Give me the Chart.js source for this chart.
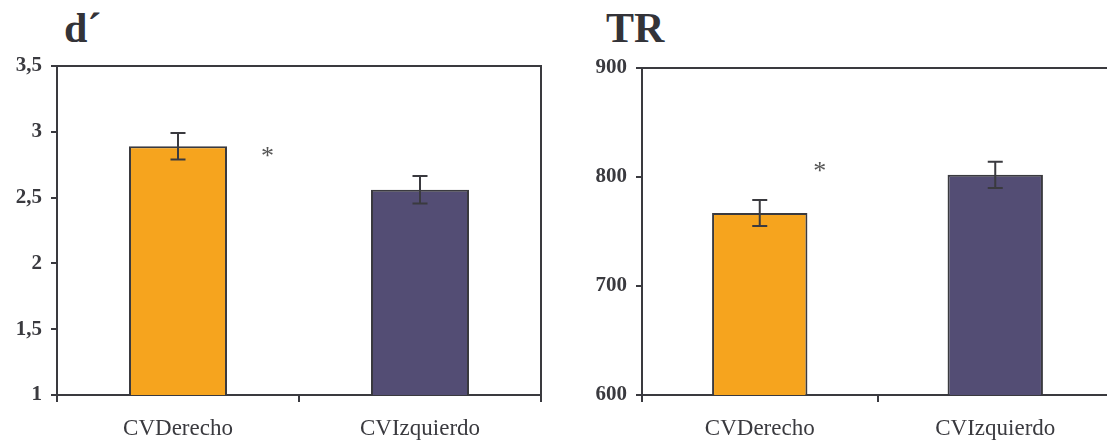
<!DOCTYPE html>
<html>
<head>
<meta charset="utf-8">
<script src="https://cdn.jsdelivr.net/npm/chart.js@4"></script>
<style>
  html, body { margin: 0; padding: 0; background: #fff; overflow: hidden; width: 1107px; height: 446px; }
  .panel { position: absolute; top: 0; height: 446px; }
  .title { position: absolute; top: 7px; font: bold 42px "Liberation Serif", serif; color: #333338; line-height: 1; }
</style>
</head>
<body>
<div class="title" style="left:64px">d´</div>
<div class="title" style="left:606px">TR</div>
<div class="panel" style="left:0; width:560px"><canvas id="dChart"></canvas></div>
<div class="panel" style="left:585px; width:528px"><canvas id="trChart"></canvas></div>
<script>
const categories = ['CVDerecho', 'CVIzquierdo'];
const barColors = ['#F6A41E', '#534D74'];

const dValues = [2.89, 2.56];
const dErrors = [0.10, 0.105];
const dTicks = [1, 1.5, 2, 2.5, 3, 3.5];

const trValues = [767, 802];
const trErrors = [12, 12];
const trTicks = [600, 700, 800, 900];

// asterisk: category index plus fraction of the category width, and the y value
const dStar = { index: 0.37, value: 2.84 };
const trStar = { index: 0.255, value: 808 };

const ink = '#3a3a3f';

// frame on top and right, error bars, asterisk
const extras = {
  id: 'extras',
  afterDatasetsDraw(chart, args, opts) {
    const { ctx, chartArea: a, scales: { x, y } } = chart;
    ctx.save();
    ctx.strokeStyle = ink;
    ctx.lineWidth = 2;
    ctx.beginPath();
    ctx.moveTo(a.left, a.top);
    ctx.lineTo(a.right, a.top);
    ctx.lineTo(a.right, a.bottom);
    ctx.stroke();

    const meta = chart.getDatasetMeta(0);
    meta.data.forEach((bar, i) => {
      const v = chart.data.datasets[0].data[i];
      const e = opts.errors[i];
      const yTop = y.getPixelForValue(v + e);
      const yBot = y.getPixelForValue(v - e);
      ctx.beginPath();
      ctx.moveTo(bar.x, yTop);
      ctx.lineTo(bar.x, yBot);
      ctx.moveTo(bar.x - 7.5, yTop);
      ctx.lineTo(bar.x + 7.5, yTop);
      ctx.moveTo(bar.x - 7.5, yBot);
      ctx.lineTo(bar.x + 7.5, yBot);
      ctx.stroke();
    });

    const catW = (a.right - a.left) / chart.data.labels.length;
    const sx = x.getPixelForValue(0) + opts.star.index * catW;
    const sy = y.getPixelForValue(opts.star.value);
    ctx.fillStyle = '#555';
    ctx.font = '26px "Liberation Serif", serif';
    ctx.textAlign = 'center';
    ctx.textBaseline = 'middle';
    ctx.fillText('*', sx, sy + 4);
    ctx.restore();
  }
};

function makeChart(id, values, errors, ticks, star, topPad, rightPad, fmt) {
  const ctx = document.getElementById(id).getContext('2d');
  return new Chart(ctx, {
    type: 'bar',
    data: {
      labels: categories,
      datasets: [{
        data: values,
        backgroundColor: barColors,
        borderColor: ink,
        borderWidth: 2,
        barPercentage: 0.405,
        categoryPercentage: 1
      }]
    },
    options: {
      responsive: true,
      maintainAspectRatio: false,
      animation: false,
      layout: { padding: { top: topPad, right: rightPad, left: 0, bottom: 0 } },
      plugins: {
        legend: { display: false },
        tooltip: { enabled: false },
        extras: { errors: errors, star: star }
      },
      scales: {
        x: {
          grid: { drawOnChartArea: false, tickLength: 7, color: ink, lineWidth: 2, offset: true },
          border: { color: ink, width: 2 },
          ticks: { color: ink, padding: 13, font: { family: '"Liberation Serif", serif', size: 23 } },
          afterFit: s => { s.height = 51; }
        },
        y: {
          min: ticks[0],
          max: ticks[ticks.length - 1],
          afterBuildTicks: s => { s.ticks = ticks.map(v => ({ value: v })); },
          grid: { drawOnChartArea: false, tickLength: 6, color: ink, lineWidth: 2 },
          border: { color: ink, width: 2 },
          ticks: {
            color: ink,
            padding: 9,
            font: { family: '"Liberation Serif", serif', size: 21, weight: 'bold' },
            callback: fmt
          },
          afterFit: s => { s.width = 57; }
        }
      }
    },
    plugins: [extras]
  });
}

makeChart('dChart', dValues, dErrors, dTicks, dStar, 66, 19, v => String(v).replace('.', ','));
makeChart('trChart', trValues, trErrors, trTicks, trStar, 68, 0, v => String(v));
</script>
</body>
</html>
